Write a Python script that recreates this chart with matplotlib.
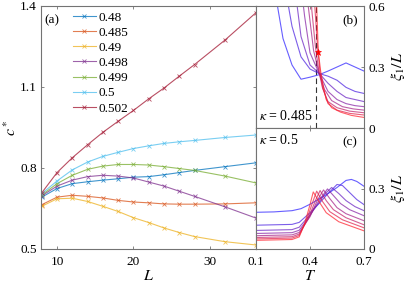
import numpy as np
import matplotlib
matplotlib.use('Agg')
import matplotlib.pyplot as plt

plt.rcParams['font.family'] = ['Liberation Serif', 'DejaVu Serif']
plt.rcParams['mathtext.fontset'] = 'stix'
plt.rcParams['font.size'] = 9.5

# ---- panel (a): c* vs L ----
L = [8, 10, 12, 14, 16, 18, 20, 22, 24, 26, 28, 32, 36]
kappa_labels = ['0.48', '0.485', '0.49', '0.498', '0.499', '0.5', '0.502']
c_048 = [0.692, 0.724, 0.742, 0.749, 0.755, 0.760, 0.766, 0.768, 0.775, 0.783, 0.791, 0.805, 0.819]
c_0485 = [0.664, 0.692, 0.699, 0.695, 0.689, 0.680, 0.674, 0.671, 0.667, 0.666, 0.666, 0.667, 0.671]
c_049 = [0.658, 0.686, 0.688, 0.676, 0.658, 0.639, 0.616, 0.598, 0.578, 0.561, 0.546, 0.527, 0.515]
c_0498 = [0.697, 0.733, 0.755, 0.768, 0.773, 0.770, 0.763, 0.748, 0.733, 0.714, 0.695, 0.656, 0.615]
c_0499 = [0.700, 0.742, 0.773, 0.795, 0.807, 0.813, 0.813, 0.811, 0.805, 0.798, 0.791, 0.770, 0.745]
c_05 = [0.705, 0.752, 0.793, 0.822, 0.843, 0.858, 0.872, 0.882, 0.891, 0.897, 0.902, 0.913, 0.922]
c_0502 = [0.708, 0.783, 0.838, 0.886, 0.932, 0.973, 1.013, 1.056, 1.096, 1.140, 1.183, 1.274, 1.374]
c_star = [c_048, c_0485, c_049, c_0498, c_0499, c_05, c_0502]

# ---- panel (b): xi_1/L vs T, kappa = 0.485 (one curve per L, blue -> red) ----
T_b = [
    [0.20, 0.25, 0.30, 0.35, 0.40, 0.45, 0.50, 0.55, 0.60, 0.65, 0.70],
    [0.25, 0.30, 0.35, 0.40, 0.45, 0.50, 0.55, 0.60, 0.65, 0.70],
    [0.30, 0.35, 0.40, 0.45, 0.50, 0.55, 0.60, 0.65, 0.70],
    [0.33, 0.37, 0.40, 0.45, 0.50, 0.55, 0.60, 0.65, 0.70],
    [0.36, 0.39, 0.42, 0.45, 0.48, 0.52, 0.58, 0.64, 0.70],
    [0.38, 0.41, 0.43, 0.45, 0.47, 0.50, 0.55, 0.62, 0.70],
    [0.40, 0.425, 0.44, 0.455, 0.47, 0.50, 0.55, 0.62, 0.70],
    [0.42, 0.437, 0.446, 0.459, 0.475, 0.49, 0.52, 0.57, 0.63, 0.70],
]
xi_b = [
    [0.70, 0.44, 0.31, 0.24, 0.25, 0.262, 0.28, 0.30, 0.32, 0.30, 0.28],
    [0.75, 0.50, 0.35, 0.29, 0.268, 0.255, 0.235, 0.20, 0.18, 0.17],
    [0.80, 0.45, 0.31, 0.27, 0.22, 0.18, 0.15, 0.14, 0.13],
    [0.85, 0.55, 0.37, 0.27, 0.18, 0.14, 0.12, 0.11, 0.105],
    [0.90, 0.60, 0.38, 0.272, 0.19, 0.135, 0.105, 0.094, 0.088],
    [0.95, 0.58, 0.40, 0.275, 0.195, 0.13, 0.10, 0.083, 0.075],
    [1.00, 0.62, 0.42, 0.28, 0.20, 0.12, 0.088, 0.072, 0.064],
    [1.00, 0.60, 0.375, 0.28, 0.20, 0.14, 0.10, 0.078, 0.062, 0.052],
]
Tc_b = 0.433
star_b = (0.446, 0.375)

# ---- panel (c): xi_1/L vs T, kappa = 0.5 ----
T_c = [
    [0.10, 0.20, 0.30, 0.35, 0.40, 0.45, 0.50, 0.55, 0.60, 0.63, 0.66, 0.70],
    [0.10, 0.30, 0.34, 0.40, 0.45, 0.50, 0.55, 0.58, 0.62, 0.66, 0.70],
    [0.10, 0.30, 0.34, 0.40, 0.45, 0.48, 0.52, 0.56, 0.60, 0.65, 0.70],
    [0.10, 0.30, 0.34, 0.40, 0.45, 0.497, 0.53, 0.57, 0.62, 0.70],
    [0.10, 0.30, 0.34, 0.40, 0.44, 0.475, 0.51, 0.55, 0.60, 0.70],
    [0.10, 0.30, 0.34, 0.39, 0.43, 0.456, 0.49, 0.53, 0.60, 0.70],
    [0.10, 0.30, 0.34, 0.38, 0.41, 0.437, 0.47, 0.51, 0.58, 0.70],
    [0.10, 0.30, 0.34, 0.37, 0.40, 0.418, 0.45, 0.49, 0.56, 0.70],
]
xi_c = [
    [0.182, 0.184, 0.190, 0.200, 0.222, 0.248, 0.275, 0.305, 0.340, 0.345, 0.335, 0.311],
    [0.118, 0.122, 0.132, 0.180, 0.225, 0.275, 0.320, 0.315, 0.280, 0.245, 0.220],
    [0.092, 0.096, 0.108, 0.170, 0.230, 0.270, 0.305, 0.275, 0.240, 0.210, 0.190],
    [0.077, 0.081, 0.093, 0.165, 0.240, 0.298, 0.265, 0.225, 0.195, 0.165],
    [0.066, 0.070, 0.082, 0.160, 0.240, 0.293, 0.250, 0.205, 0.175, 0.140],
    [0.057, 0.061, 0.074, 0.150, 0.240, 0.290, 0.240, 0.195, 0.155, 0.120],
    [0.050, 0.054, 0.067, 0.140, 0.220, 0.287, 0.235, 0.185, 0.145, 0.105],
    [0.043, 0.047, 0.060, 0.125, 0.220, 0.283, 0.235, 0.180, 0.135, 0.090],
]

# matlab-like default colours for (a)
colors_a = ['#0072BD', '#D95319', '#EDB120', '#7E2F8E', '#77AC30', '#4DBEEE', '#A2142F']
spine_col = '0.45'


def style_axes(ax):
    for s in ax.spines.values():
        s.set_color(spine_col)
        s.set_linewidth(0.8)
    ax.tick_params(direction='in', length=2.5, width=0.6, color=spine_col,
                   top=True, right=True, pad=3)
    ax.tick_params(axis='x', pad=5)


fig = plt.figure(figsize=(4.07, 2.86), dpi=100)
ax_a = fig.add_axes([0.1007, 0.1294, 0.5283, 0.8497])
ax_b = fig.add_axes([0.6290, 0.5524, 0.2654, 0.4266])
ax_c = fig.add_axes([0.6290, 0.1294, 0.2654, 0.4230])

# (a)
for y, col, lab in zip(c_star, colors_a, kappa_labels):
    ax_a.plot(L, y, '-x', color=col, alpha=0.75, lw=0.8, ms=3.3, mew=0.6, label=lab)
ax_a.set_xlim(7.9, 36.05)
ax_a.set_ylim(0.5, 1.4)
ax_a.set_xticks([10, 20, 30])
ax_a.set_yticks([0.5, 0.8, 1.1, 1.4])
ax_a.set_xlabel('$L$', fontsize=11.5, labelpad=0)
ax_a.set_ylabel('$c^*$', fontsize=11.5, labelpad=0)
style_axes(ax_a)
ax_a.text(0.015, 0.965, '(a)', transform=ax_a.transAxes, ha='left', va='top')
ax_a.legend(loc='upper left', bbox_to_anchor=(0.11, 1.01), frameon=False,
            handlelength=1.8, handletextpad=0.15, labelspacing=0.22,
            borderaxespad=0.2, fontsize=9.5)

# (b) and (c)
n = len(xi_b)
curve_cols = [(0.15 + 0.85 * i / (n - 1), 0.1, 1 - 0.85 * i / (n - 1)) for i in range(n)]

for t, v, col in zip(T_b, xi_b, curve_cols):
    ax_b.plot(t, v, color=col, lw=0.8, alpha=0.7)
ax_b.axvline(Tc_b, color='0.2', lw=0.8, ls=(0, (5, 3)), zorder=1)
ax_b.plot(*star_b, '*', color='red', ms=5, mew=0.5, zorder=5)

for t, v, col in zip(T_c, xi_c, curve_cols):
    ax_c.plot(t, v, color=col, lw=0.8, alpha=0.7)

for ax in (ax_b, ax_c):
    ax.set_xlim(0.1, 0.7)
    ax.set_ylim(0, 0.6)
    ax.set_xticks([0.1, 0.4, 0.7])
    ax.yaxis.tick_right()
    ax.yaxis.set_label_position('right')
    style_axes(ax)
    ax.set_ylabel(r'$\xi_1/L$', fontsize=11.5, labelpad=3)

ax_b.set_yticks([0, 0.3, 0.6])
ax_b.set_yticklabels(['0', '0.3', '0.6'])
ax_b.tick_params(labelbottom=False)
ax_c.set_yticks([0, 0.3])
ax_c.set_yticklabels(['0', '0.3'])
ax_c.set_xticklabels(['0.1', '0.4', '0.7'])
ax_c.set_xlabel('$T$', fontsize=11.5, labelpad=0)

ax_b.text(0.94, 0.93, '(b)', transform=ax_b.transAxes, ha='right', va='top')
ax_c.text(0.94, 0.93, '(c)', transform=ax_c.transAxes, ha='right', va='top')
ax_b.text(0.03, 0.04, r'$\kappa$ = 0.485', transform=ax_b.transAxes, ha='left', va='bottom',
          fontsize=10, bbox=dict(facecolor='white', edgecolor='none', pad=0.3))
ax_c.text(0.03, 0.96, r'$\kappa$ = 0.5', transform=ax_c.transAxes, ha='left', va='top',
          fontsize=10)

fig.savefig('out.png', dpi=100)
